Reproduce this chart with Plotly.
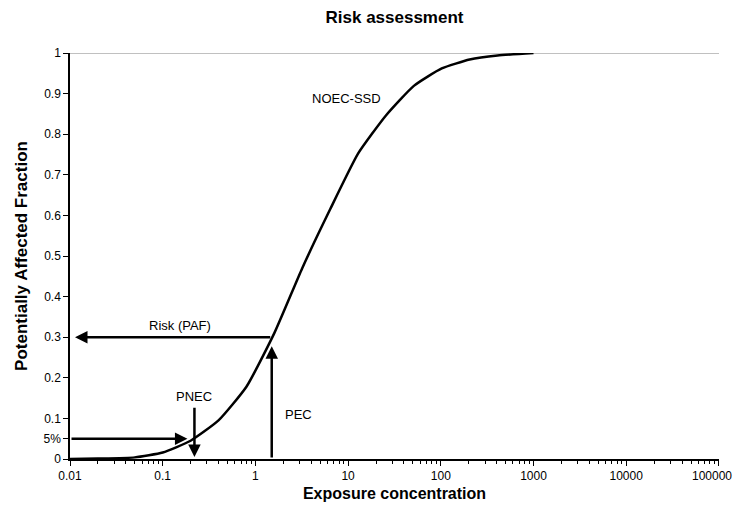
import numpy as np
import plotly.graph_objects as go

# NOEC-SSD curve
conc = [0.01, 0.02, 0.05, 0.1, 0.2, 0.4, 0.8, 1.6, 3.2, 6.4, 12.8, 25.6, 51.2, 102.4, 204.8, 409.6, 1000]
paf = [0.0, 0.001, 0.004, 0.016, 0.045, 0.095, 0.178, 0.31, 0.47, 0.615, 0.752, 0.846, 0.919, 0.962, 0.984, 0.994, 1.0]

PEC = 1.5
RISK = 0.3
PNEC = 0.22
P5 = 0.05
XMIN, XMAX = 0.01, 100000

x_ticks = [0.01, 0.1, 1, 10, 100, 1000, 10000, 100000]
x_ticktext = ["0.01", "0.1", "1", "10", "100", "1000", "10000", "100000"]
y_ticks = [0, P5, 0.1, 0.2, 0.3, 0.4, 0.5, 0.6, 0.7, 0.8, 0.9, 1]
y_ticktext = ["0", "5%", "0.1", "0.2", "0.3", "0.4", "0.5", "0.6", "0.7", "0.8", "0.9", "1"]

minor_vals = [m * 10.0 ** e for e in range(-2, 5) for m in range(2, 10)]

FONT = "Liberation Sans, Arial, sans-serif"

fig = go.Figure()
fig.add_trace(go.Scatter(x=conc, y=paf, mode="lines",
                         line=dict(color="black", width=2.5, shape="spline", smoothing=0.5),
                         showlegend=False, hoverinfo="skip"))

lx = np.log10

def arrow(x, y, ax, ay, standoff=0):
    return dict(x=lx(x), y=y, ax=lx(ax), ay=ay, xref="x", yref="y", axref="x", ayref="y",
                showarrow=True, arrowhead=2, arrowsize=1, arrowwidth=2.5, arrowcolor="black",
                standoff=standoff, text="")

def label(x, y, t, size=13):
    return dict(x=lx(x), y=y, xref="x", yref="y", text=t, showarrow=False,
                font=dict(family=FONT, size=size, color="black"))

annotations = [
    arrow(XMIN, RISK, PEC, RISK, standoff=5),          # Risk (PAF) arrow
    arrow(PEC, RISK, PEC, 0, standoff=9),              # PEC arrow up
    arrow(PNEC, 0, PNEC, 0.13, standoff=2),            # PNEC arrow down
    arrow(PNEC, P5, XMIN, P5, standoff=7),             # 5% arrow
    label(0.154, 0.33, "Risk (PAF)"),
    label(PNEC, 0.153, "PNEC"),
    label(2.9, 0.11, "PEC"),
    label(9.5, 0.887, "NOEC-SSD"),
    # last tick label, nudged so it stays inside the page
    dict(x=lx(x_ticks[-1]), y=0, xref="x", yref="paper", text=x_ticktext[-1],
         showarrow=False, xanchor="center", yanchor="middle", xshift=-7, yshift=-17,
         font=dict(family=FONT, size=12, color="black")),
]

shown_ticktext = x_ticktext[:-1] + [""]

fig.update_layout(
    width=733, height=510,
    margin=dict(l=70, r=14, t=53, b=51, autoexpand=False),
    paper_bgcolor="white", plot_bgcolor="white",
    font=dict(family=FONT, size=12, color="black"),
    title=dict(text="<b>Risk assessment</b>", x=(70 + 719) / 2 / 733, xanchor="center",
               y=1 - 17 / 510, yanchor="middle", font=dict(family=FONT, size=17)),
    annotations=annotations,
    shapes=[dict(type="line", xref="paper", yref="y", x0=0, x1=1, y0=1, y1=1,
                 line=dict(color="#c0c0c0", width=2), layer="below")],
    xaxis=dict(type="log", range=[lx(XMIN), lx(XMAX) + 0.001], tickmode="array",
               tickvals=x_ticks, ticktext=shown_ticktext, ticks="outside", ticklen=5,
               tickcolor="black", showgrid=False, zeroline=False, showline=True,
               linecolor="black", linewidth=1.5,
               automargin=False,
               minor=dict(tickmode="array", tickvals=minor_vals, ticks="outside",
                          ticklen=3, tickcolor="black", showgrid=False),
               title=dict(text="<b>Exposure concentration</b>", standoff=6,
                          font=dict(family=FONT, size=16)),
               tickfont=dict(family=FONT, size=12)),
    yaxis=dict(range=[0, 1], tickmode="array", tickvals=y_ticks, ticktext=y_ticktext,
               ticks="outside", ticklen=5, tickcolor="black", showgrid=False,
               zeroline=False, showline=True, linecolor="black", linewidth=1.5,
               automargin=False,
               title=dict(text="<b>Potentially Affected Fraction</b>", standoff=12,
                          font=dict(family=FONT, size=17)),
               tickfont=dict(family=FONT, size=12)),
)

fig.write_html("out.html")
